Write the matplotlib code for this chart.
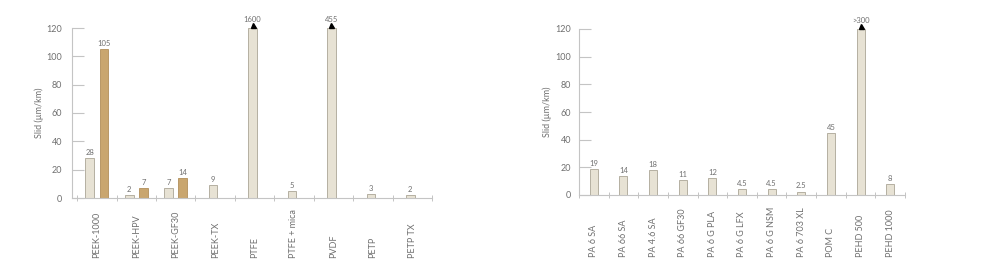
import matplotlib
matplotlib.use("Agg")
import matplotlib.pyplot as plt
import matplotlib.transforms as mtransforms
import numpy as np

plt.rcParams['font.family'] = ['Lato', 'DejaVu Sans']

# ---------------- data ----------------
left_categories = ["PEEK-1000", "PEEK-HPV", "PEEK-GF30", "PEEK-TX", "PTFE",
                   "PTFE + mica", "PVDF", "PETP", "PETP TX"]
left_light = [28, 2, 7, 9, 1600, 5, 455, 3, 2]
left_light_labels = ["28", "2", "7", "9", "1600", "5", "455", "3", "2"]
left_dark = [105, 7, 14, None, None, None, None, None, None]
left_dark_labels = ["105", "7", "14", "", "", "", "", "", ""]

right_categories = ["PA 6 SA", "PA 66 SA", "PA 4.6 SA", "PA 66 GF30", "PA 6 G PLA",
                    "PA 6 G LFX", "PA 6 G NSM", "PA 6 703 XL", "POM C", "PEHD 500",
                    "PEHD 1000"]
right_values = [19, 14, 18, 11, 12, 4.5, 4.5, 2.5, 45, 300, 8]
right_labels = ["19", "14", "18", "11", "12", "4.5", "4.5", "2.5", "45", ">300", "8"]

y_ticks = [0, 20, 40, 60, 80, 100, 120]
y_label = "Slid (µm/km)"
y_cap = 120

# ---------------- style ----------------
LIGHT = "#E7E2D4"
LIGHT_EDGE = "#ABA596"
DARK = "#C9A66F"
DARK_EDGE = "#B18F5A"
SPINE = "#C4C4C4"
TEXT = "#707070"

fig = plt.figure(figsize=(10, 2.77), dpi=100)
W, H = 1000, 277


def axes_rect(x0, x1, y_top, y_bot):
    return [x0 / W, (H - y_bot) / H, (x1 - x0) / W, (y_bot - y_top) / H]


def style_axis(ax, ylab_pad, label_pad):
    ax.set_ylim(0, y_cap)
    ax.set_yticks(y_ticks)
    for s in ["top", "right"]:
        ax.spines[s].set_visible(False)
    for s in ["left", "bottom"]:
        ax.spines[s].set_color(SPINE)
        ax.spines[s].set_linewidth(0.8)
    ax.tick_params(axis="y", direction="in", length=8.5, width=0.8, color=SPINE,
                   labelsize=6.5, labelcolor=TEXT, pad=ylab_pad)
    ax.tick_params(axis="x", which="both", direction="inout", length=5, width=0.7,
                   color=SPINE, labelbottom=False)
    ax.set_ylabel(y_label, fontsize=6.5, color=TEXT, labelpad=label_pad)
    ax.patch.set_alpha(0)


def value_label(ax, x, v, text, fs=5.5):
    if v > y_cap:
        ax.plot([x], [y_cap + 2.0], marker="^", color="black", markersize=3.6,
                clip_on=False, linestyle="none")
        ax.text(x, y_cap + 3.8, text, ha="center", va="bottom", fontsize=fs,
                color=TEXT, clip_on=False)
    else:
        ax.text(x, v + 1.5, text, ha="center", va="bottom", fontsize=fs,
                color=TEXT, clip_on=False)


def cat_labels(ax, cats, yfrac):
    trans = mtransforms.blended_transform_factory(ax.transData, ax.transAxes)
    for i, c in enumerate(cats):
        ax.text(i, yfrac, c, rotation=90, ha="center", va="bottom", fontsize=6.5,
                color=TEXT, transform=trans, clip_on=False)


# ---------------- left chart ----------------
axL = fig.add_axes(axes_rect(72, 432, 28, 198))
nL = len(left_categories)
xL = np.arange(nL)
wL = 0.22
off = 0.18
for i in range(nL):
    v = left_light[i]
    d = left_dark[i]
    if d is not None:
        xa = xL[i] - off
        xb = xL[i] + off
        axL.bar(xb, min(d, y_cap), width=wL, color=DARK, edgecolor=DARK_EDGE,
                linewidth=0.6)
        value_label(axL, xb, d, left_dark_labels[i])
    else:
        xa = xL[i] - 0.05
    axL.bar(xa, min(v, y_cap), width=wL, color=LIGHT, edgecolor=LIGHT_EDGE,
            linewidth=0.6)
    value_label(axL, xa, v, left_light_labels[i])

axL.set_xlim(-0.63, nL - 0.5)
axL.set_xticks(np.arange(nL + 1) - 0.5)
style_axis(axL, 7, 1.5)
cat_labels(axL, left_categories, -0.353)

# ---------------- right chart ----------------
axR = fig.add_axes(axes_rect(579, 905, 29, 195))
nR = len(right_categories)
xR = np.arange(nR)
wR = 0.27
for i in range(nR):
    v = right_values[i]
    axR.bar(xR[i], min(v, y_cap), width=wR, color=LIGHT, edgecolor=LIGHT_EDGE,
            linewidth=0.6)
    value_label(axR, xR[i], v, right_labels[i])

axR.set_xlim(-0.5, nR - 0.5)
axR.set_xticks(np.arange(nR + 1) - 0.5)
style_axis(axR, 5.5, 2.5)
cat_labels(axR, right_categories, -0.373)

fig.savefig("out.png", dpi=100)
